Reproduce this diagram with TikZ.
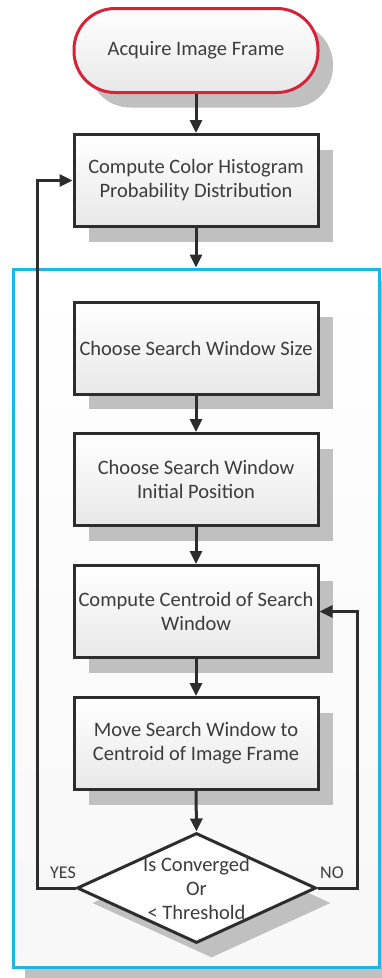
\documentclass[tikz,border=0pt]{standalone}
\usepackage{fontspec}
\setmainfont{Carlito}
\usetikzlibrary{arrows.meta,shapes.geometric,shadows}
\definecolor{txt}{RGB}{60,60,60}
\definecolor{edge}{RGB}{45,45,45}
\definecolor{termred}{RGB}{215,35,55}
\definecolor{framecyan}{RGB}{35,180,230}
\definecolor{shade}{RGB}{192,192,192}
\begin{document}
\begin{tikzpicture}[x=1pt,y=-1pt,
  boxtext/.style={text=txt, font=\fontsize{20.5}{24}\selectfont, align=center},
  stepbox/.style={boxtext, draw=edge, line width=3pt, top color=white, bottom color=black!9,
    minimum width=244pt, minimum height=92pt, inner sep=0pt,
    drop shadow={shadow xshift=15pt, shadow yshift=-15pt, fill=shade, opacity=1}},
  termbox/.style={stepbox, draw=termred, minimum height=84pt, rounded corners=41pt},
  decision/.style={shape=diamond, draw=edge, line width=3pt, fill=white,
    minimum width=239pt, minimum height=110pt, inner sep=0pt,
    drop shadow={shadow xshift=15pt, shadow yshift=-15pt, fill=shade, opacity=1}},
  framebox/.style={draw=framecyan, line width=3pt, top color=white, bottom color=black!3,
    minimum width=366pt, minimum height=698pt, inner sep=0pt,
    drop shadow={shadow xshift=12pt, shadow yshift=-12pt, fill=shade, opacity=1}},
  arr/.style={draw=edge, line width=3pt, -{Triangle[length=13pt,width=12pt]}},
  lbl/.style={text=txt, font=\fontsize{18}{20}\selectfont}
]
\fill[white] (0,0) rectangle (382,978);
\useasboundingbox (0,0) rectangle (382,978);

\node[framebox] (frame) at (196,618) {};

\node[termbox] (term) at (196,50.5) {Acquire Image Frame};
\node[stepbox] (box1) at (196,180.5) {Compute Color Histogram\\Probability Distribution};
\node[stepbox] (box2) at (196,348) {Choose Search Window Size};
\node[stepbox] (box3) at (196,479.5) {Choose Search Window\\Initial Position};
\node[stepbox] (box4) at (196,611.5) {Compute Centroid of Search\\Window};
\node[stepbox] (box5) at (196,743.5) {Move Search Window to\\Centroid of Image Frame};
\node[decision] (dec) at (196.5,888) {};
\node[boxtext, inner sep=0pt] (dectext) at (196.5,888) {Is Converged\\Or\\< Threshold};

\draw[arr] (term.south) -- (box1.north);
\draw[arr] (box1.south) -- (frame.north);
\draw[arr] (box2.south) -- (box3.north);
\draw[arr] (box3.south) -- (box4.north);
\draw[arr] (box4.south) -- (box5.north);
\draw[arr] (box5.south) -- (dec.north);
\draw[arr] (dec.west) -- ++(-38,0) |- (box1.west);
\draw[arr] (dec.east) -- ++(40,0) |- (box4.east);

\node[lbl] (yes) at (63,873) {YES};
\node[lbl] (no) at (332,873) {NO};
\end{tikzpicture}
\end{document}
